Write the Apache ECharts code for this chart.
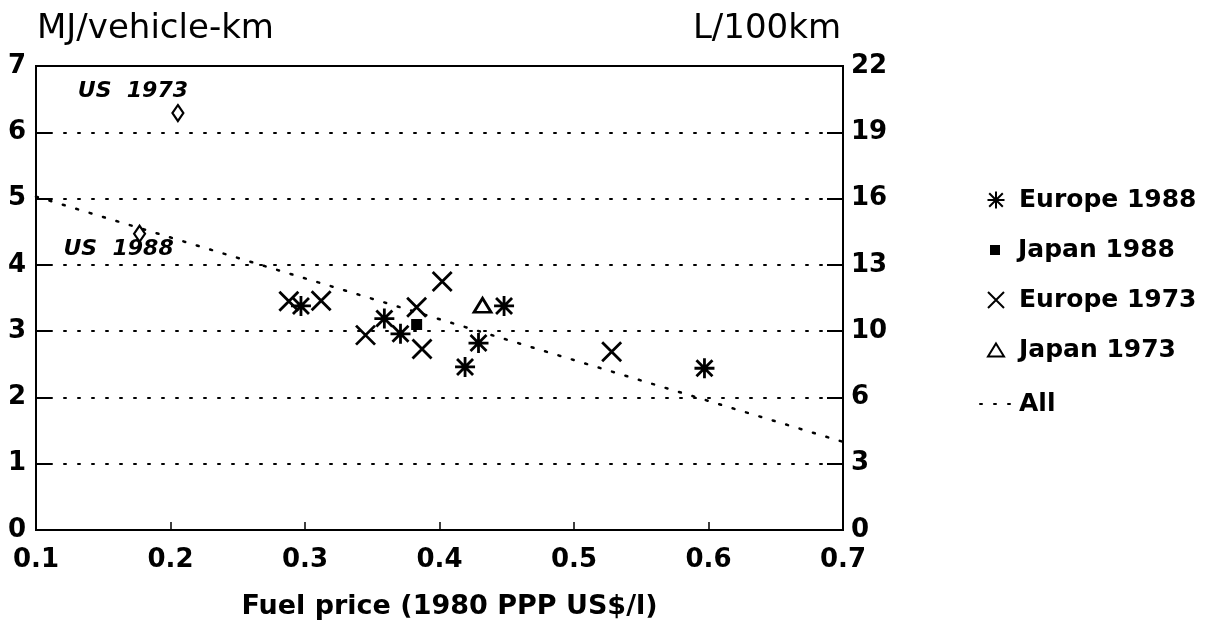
<!DOCTYPE html>
<html>
<head>
<meta charset="utf-8">
<script src="https://cdn.jsdelivr.net/npm/echarts@6/dist/echarts.min.js"></script>
<style>
html,body{margin:0;padding:0;background:#fff;}
#chart{width:1206px;height:625px;}
</style>
</head>
<body>
<div id="chart"></div>
<script>
// ---- data ----
const europe1988 = [[0.297,3.38],[0.359,3.19],[0.371,2.96],[0.419,2.46],[0.429,2.82],[0.448,3.38],[0.597,2.44]];
const japan1988 = [[0.383,3.10]];
const europe1973 = [[0.288,3.45],[0.312,3.46],[0.345,2.94],[0.383,3.36],[0.387,2.73],[0.402,3.75],[0.528,2.69]];
const japan1973 = [[0.432,3.39]];
const usPoints = [[0.2055,6.29],[0.177,4.47]];
const usLabels = ['US  1973','US  1988'];
const allFit = [[0.1,5.03],[0.7,1.33]];
const rightTickLabels = ['0','3','6','10','13','16','19','22'];
const seriesNames = ['Europe 1988','Japan 1988','Europe 1973','Japan 1973','All'];

const FONT = '"DejaVu Sans", Verdana, sans-serif';
const chart = echarts.init(document.getElementById('chart'));

const hollow = {color:'rgba(0,0,0,0)', borderColor:'#000', borderWidth:2.8, opacity:1};
const asterisk = 'path://M0 -10 L0 10 M-10 0 L10 0 M-8 -8 L8 8 M-8 8 L8 -8';
const cross = 'path://M0 0 L10 10 M10 0 L0 10';

const usLabelOffsets = [[-45,-22],[-21,16]];

// separate legend boxes so each icon can have its own size
const legendIconSizes = [[17,17],[10,10],[16,16],[16,13],[32,20]];
const legendTextCenters = [200,250,300,350,404];
const legends = seriesNames.map((n,i)=>{
  const w = legendIconSizes[i][0], h = legendIconSizes[i][1];
  const extra = Math.max(0, 23 - w/2 - 5);
  return {
    orient:'vertical', left:995 - w/2, top:legendTextCenters[i]-15, itemWidth:w, itemHeight:h,
    itemGap:0, padding:0,
    textStyle:{fontSize:25,fontWeight:'bold',fontFamily:FONT,color:'#000',lineHeight:30,padding:[0,0,0,extra]},
    data:[n]
  };
});

const option = {
  animation:false,
  backgroundColor:'#fff',
  textStyle:{fontFamily:FONT,color:'#000'},
  grid:{left:36,right:363,top:66,bottom:93,show:true,borderColor:'#000',borderWidth:2},
  graphic:[
    {type:'text',x:37,y:29,style:{text:'MJ/vehicle-km',font:'34px '+FONT,fill:'#000',textVerticalAlign:'middle'}},
    {type:'text',x:841,y:29,style:{text:'L/100km',font:'34px '+FONT,fill:'#000',textAlign:'right',textVerticalAlign:'middle'}}
  ],
  legend:legends,
  xAxis:{
    type:'value',min:0.1,max:0.7,interval:0.1,
    name:'Fuel price (1980 PPP US$/l)',nameLocation:'middle',nameGap:63,
    nameTextStyle:{fontSize:27,fontWeight:'bold',fontFamily:FONT,color:'#000',padding:[0,0,0,20]},
    axisLine:{lineStyle:{color:'#000',width:2}},
    axisTick:{inside:true,length:8,lineStyle:{color:'#000',width:1.5}},
    axisLabel:{fontSize:26,fontWeight:'bold',color:'#000',margin:17,formatter:v=>v.toFixed(1)},
    splitLine:{show:false}
  },
  yAxis:[{
    type:'value',min:0,max:7,interval:1,position:'left',
    axisLine:{show:true,lineStyle:{color:'#000',width:2}},
    axisTick:{show:true,inside:true,length:16,lineStyle:{color:'#000',width:2}},
    axisLabel:{fontSize:26,fontWeight:'bold',color:'#000',margin:10,padding:[6,0,0,0]},
    splitLine:{show:true,lineStyle:{color:'#000',width:2,type:[2,12],cap:'round'}}
  },{
    type:'value',min:0,max:7,interval:1,position:'right',
    axisLine:{show:true,lineStyle:{color:'#000',width:2}},
    axisTick:{show:true,inside:true,length:16,lineStyle:{color:'#000',width:2}},
    axisLabel:{fontSize:26,fontWeight:'bold',color:'#000',margin:8,padding:[6,0,0,0],formatter:v=>rightTickLabels[Math.round(v)]},
    splitLine:{show:false}
  }],
  series:[
    {name:'Europe 1988',type:'scatter',symbol:asterisk,symbolSize:20,itemStyle:hollow,data:europe1988,z:5},
    {name:'Japan 1988',type:'scatter',symbol:'rect',symbolSize:11,itemStyle:{color:'#000',opacity:1},data:japan1988,z:5},
    {name:'Europe 1973',type:'scatter',symbol:cross,symbolSize:19,itemStyle:hollow,data:europe1973,z:5},
    {name:'Japan 1973',type:'scatter',symbol:'triangle',symbolSize:[17,14],itemStyle:hollow,data:japan1973,z:5},
    {name:'All',type:'line',symbol:'none',data:allFit,lineStyle:{color:'#000',width:2.5,type:[2,12],cap:'round'},itemStyle:{color:'#000',opacity:0},z:3},
    {name:'US',type:'scatter',symbol:'diamond',symbolSize:[11,16],itemStyle:{color:'rgba(0,0,0,0)',borderColor:'#000',borderWidth:2.2,opacity:1},z:5,
     data:usPoints.map((p,i)=>({value:p,label:{show:true,formatter:usLabels[i],position:'inside',offset:usLabelOffsets[i],
       fontSize:22,fontWeight:'bold',fontStyle:'italic',fontFamily:FONT,color:'#000'}}))}
  ]
};
chart.setOption(option);
</script>
</body>
</html>
